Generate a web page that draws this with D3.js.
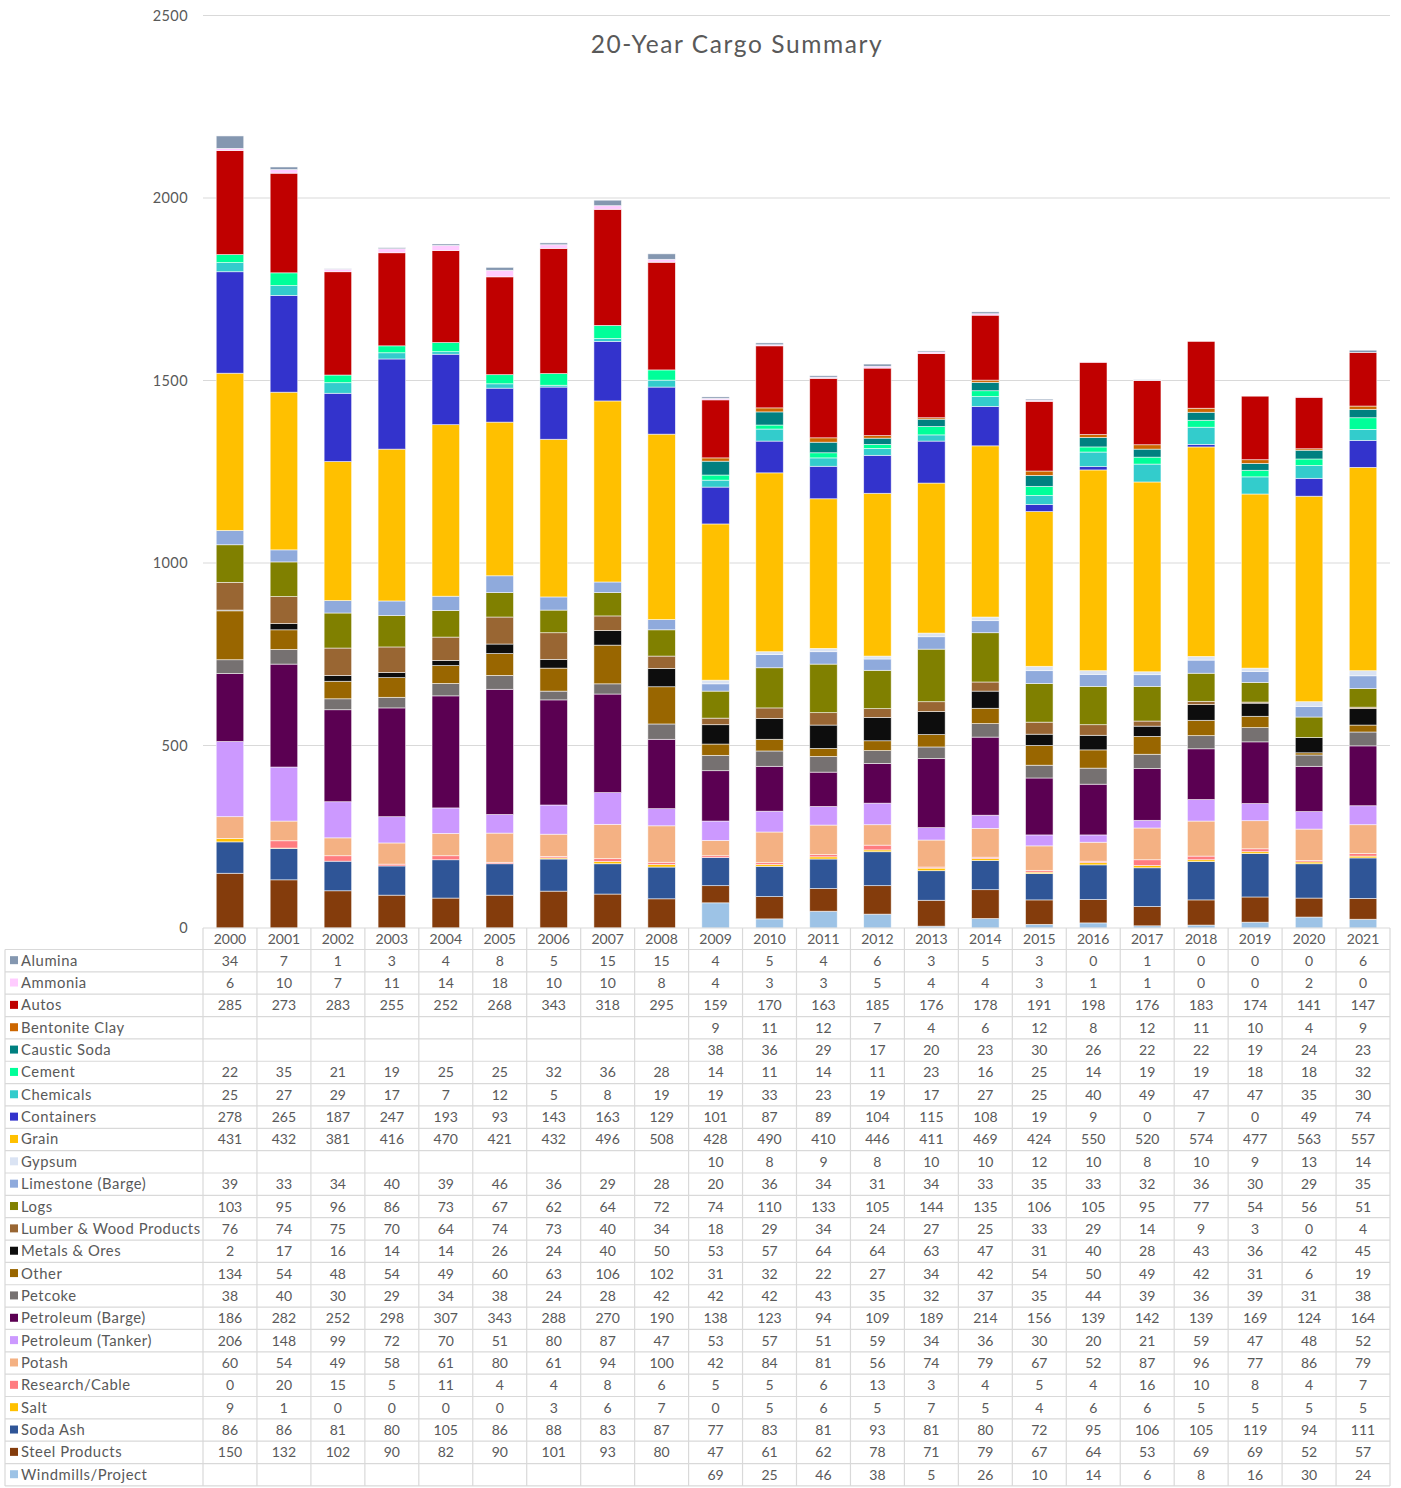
<!DOCTYPE html>
<html>
<head>
<meta charset="utf-8">
<script src="https://cdn.jsdelivr.net/npm/d3@7"></script>
<style>
  html, body { margin: 0; padding: 0; background: #fff; }
  svg { display: block; font-family: "Lato", "Open Sans", sans-serif; }
</style>
</head>
<body>
<svg id="chart" width="1401" height="1488"></svg>
<script>
// ---- Data ----
const years = ["2000","2001","2002","2003","2004","2005","2006","2007","2008","2009","2010","2011","2012","2013","2014","2015","2016","2017","2018","2019","2020","2021"];
const yTicks = [0, 500, 1000, 1500, 2000, 2500];
const chartTitle = "20-Year Cargo Summary";

const seriesNames = ["Alumina","Ammonia","Autos","Bentonite Clay","Caustic Soda","Cement","Chemicals","Containers","Grain","Gypsum","Limestone (Barge)","Logs","Lumber & Wood Products","Metals & Ores","Other","Petcoke","Petroleum (Barge)","Petroleum (Tanker)","Potash","Research/Cable","Salt","Soda Ash","Steel Products","Windmills/Project"];
const seriesColors = ["#8497B0","#FFCCFF","#C00000","#CC6600","#008080","#00FF99","#33CCCC","#3333CC","#FFC000","#DAE3F3","#8FAADC","#808000","#996633","#0D0D0D","#996600","#767171","#5B0052","#CC99FF","#F4B183","#FF7C80","#FFC000","#2F5597","#843C0C","#9DC3E6"];

const alumina      = [34,7,1,3,4,8,5,15,15,4,5,4,6,3,5,3,0,1,0,0,0,6];
const ammonia      = [6,10,7,11,14,18,10,10,8,4,3,3,5,4,4,3,1,1,0,0,2,0];
const autos        = [285,273,283,255,252,268,343,318,295,159,170,163,185,176,178,191,198,176,183,174,141,147];
const bentonite    = [null,null,null,null,null,null,null,null,null,9,11,12,7,4,6,12,8,12,11,10,4,9];
const causticSoda  = [null,null,null,null,null,null,null,null,null,38,36,29,17,20,23,30,26,22,22,19,24,23];
const cement       = [22,35,21,19,25,25,32,36,28,14,11,14,11,23,16,25,14,19,19,18,18,32];
const chemicals    = [25,27,29,17,7,12,5,8,19,19,33,23,19,17,27,25,40,49,47,47,35,30];
const containers   = [278,265,187,247,193,93,143,163,129,101,87,89,104,115,108,19,9,0,7,0,49,74];
const grain        = [431,432,381,416,470,421,432,496,508,428,490,410,446,411,469,424,550,520,574,477,563,557];
const gypsum       = [null,null,null,null,null,null,null,null,null,10,8,9,8,10,10,12,10,8,10,9,13,14];
const limestone    = [39,33,34,40,39,46,36,29,28,20,36,34,31,34,33,35,33,32,36,30,29,35];
const logs         = [103,95,96,86,73,67,62,64,72,74,110,133,105,144,135,106,105,95,77,54,56,51];
const lumber       = [76,74,75,70,64,74,73,40,34,18,29,34,24,27,25,33,29,14,9,3,0,4];
const metalsOres   = [2,17,16,14,14,26,24,40,50,53,57,64,64,63,47,31,40,28,43,36,42,45];
const other        = [134,54,48,54,49,60,63,106,102,31,32,22,27,34,42,54,50,49,42,31,6,19];
const petcoke      = [38,40,30,29,34,38,24,28,42,42,42,43,35,32,37,35,44,39,36,39,31,38];
const petroBarge   = [186,282,252,298,307,343,288,270,190,138,123,94,109,189,214,156,139,142,139,169,124,164];
const petroTanker  = [206,148,99,72,70,51,80,87,47,53,57,51,59,34,36,30,20,21,59,47,48,52];
const potash       = [60,54,49,58,61,80,61,94,100,42,84,81,56,74,79,67,52,87,96,77,86,79];
const research     = [0,20,15,5,11,4,4,8,6,5,5,6,13,3,4,5,4,16,10,8,4,7];
const salt         = [9,1,0,0,0,0,3,6,7,0,5,6,5,7,5,4,6,6,5,5,5,5];
const sodaAsh      = [86,86,81,80,105,86,88,83,87,77,83,81,93,81,80,72,95,106,105,119,94,111];
const steel        = [150,132,102,90,82,90,101,93,80,47,61,62,78,71,79,67,64,53,69,69,52,57];
const windmills    = [null,null,null,null,null,null,null,null,null,69,25,46,38,5,26,10,14,6,8,16,30,24];

const seriesValues = [alumina, ammonia, autos, bentonite, causticSoda, cement, chemicals, containers, grain, gypsum, limestone, logs, lumber, metalsOres, other, petcoke, petroBarge, petroTanker, potash, research, salt, sodaAsh, steel, windmills];

// ---- Layout ----
const svg = d3.select("#chart");
const textColor = "#595959";
const gridColor = "#D9D9D9";
const plotLeft = 203, plotRight = 1390, plotTop = 15.5, plotBottom = 928;
const tableLeft = 5, headerH = 21.5, rowH = 22.35;

const x = d3.scaleBand().domain(years).range([plotLeft, plotRight]).paddingInner(0.49).paddingOuter(0.245);
const xCell = d3.scaleBand().domain(years).range([plotLeft, plotRight]);
const y = d3.scaleLinear().domain([0, 2500]).range([plotBottom, plotTop]);

// gridlines
svg.append("g")
  .selectAll("line").data(yTicks.filter(d => d > 0)).join("line")
  .attr("x1", plotLeft).attr("x2", plotRight)
  .attr("y1", d => y(d)).attr("y2", d => y(d))
  .attr("stroke", gridColor).attr("stroke-width", 1);

// y axis labels
const yAxis = d3.axisLeft(y).tickValues(yTicks).tickFormat(d3.format("d")).tickSize(0).tickPadding(15);
const yG = svg.append("g").attr("transform", `translate(${plotLeft},0)`).call(yAxis);
yG.select(".domain").remove();
yG.selectAll("text").attr("fill", textColor).attr("font-size", 14.5)
  .attr("letter-spacing", 0.4).attr("font-family", "Lato, sans-serif");

// stack: bottom = last series (Windmills), top = Alumina
const stackOrder = seriesNames.map((n, i) => i).reverse();
const rows = years.map((yr, j) => {
  const o = { year: yr };
  seriesNames.forEach((n, i) => { o[n] = seriesValues[i][j] || 0; });
  return o;
});
const stack = d3.stack().keys(stackOrder.map(i => seriesNames[i]));
const layers = stack(rows);

const colorOf = d3.scaleOrdinal().domain(seriesNames).range(seriesColors);

svg.append("g").selectAll("g").data(layers).join("g")
  .attr("fill", d => colorOf(d.key))
  .selectAll("rect").data(d => d).join("rect")
  .attr("x", d => x(d.data.year))
  .attr("width", x.bandwidth())
  .attr("y", d => y(d[1]))
  .attr("height", d => Math.max(0, y(d[0]) - y(d[1])))
  .attr("stroke", "rgba(255,255,255,0.7)")
  .attr("stroke-width", 0.75);

// title
svg.append("text")
  .attr("x", 737).attr("y", 53)
  .attr("text-anchor", "middle")
  .attr("fill", textColor)
  .attr("font-size", 24.5)
  .attr("letter-spacing", 1.6)
  .attr("font-family", "Lato, sans-serif")
  .text(chartTitle);

// ---- data table ----
const table = svg.append("g").attr("font-family", "Lato, sans-serif").attr("fill", textColor);
const tableTop = plotBottom;
const bodyTop = tableTop + headerH;
const tableBottom = bodyTop + rowH * seriesNames.length;

// horizontal lines
const hLines = [tableTop].concat(d3.range(seriesNames.length + 1).map(i => bodyTop + i * rowH));
table.selectAll("line.h").data(hLines).join("line")
  .attr("class", "h")
  .attr("x1", (d, i) => i === 0 ? plotLeft : tableLeft)
  .attr("x2", plotRight)
  .attr("y1", d => d).attr("y2", d => d)
  .attr("stroke", gridColor).attr("stroke-width", 1.2);

// vertical lines
const vLines = years.map(yr => xCell(yr)).concat([plotRight]);
table.selectAll("line.v").data(vLines).join("line")
  .attr("class", "v")
  .attr("x1", d => d).attr("x2", d => d)
  .attr("y1", tableTop).attr("y2", tableBottom)
  .attr("stroke", gridColor).attr("stroke-width", 1.2);
table.append("line")
  .attr("x1", tableLeft).attr("x2", tableLeft)
  .attr("y1", bodyTop).attr("y2", tableBottom)
  .attr("stroke", gridColor).attr("stroke-width", 1.2);

// header years
table.selectAll("text.yr").data(years).join("text")
  .attr("class", "yr")
  .attr("x", d => xCell(d) + xCell.bandwidth() / 2)
  .attr("y", tableTop + headerH / 2 + 5)
  .attr("text-anchor", "middle")
  .attr("font-size", 14)
  .text(d => d);

// row labels with swatches
const rowG = table.selectAll("g.row").data(seriesNames).join("g")
  .attr("class", "row")
  .attr("transform", (d, i) => `translate(0,${bodyTop + i * rowH})`);
rowG.append("rect")
  .attr("x", 10).attr("y", rowH / 2 - 4.5)
  .attr("width", 8).attr("height", 8)
  .attr("fill", d => colorOf(d));
rowG.append("text")
  .attr("x", 21).attr("y", rowH / 2 + 5)
  .attr("font-size", 14.8)
  .attr("letter-spacing", 0.55)
  .text(d => d);

// cell values
rowG.each(function(name, i) {
  d3.select(this).selectAll("text.val")
    .data(seriesValues[i].map((v, j) => ({ v, yr: years[j] })).filter(d => d.v !== null))
    .join("text")
    .attr("class", "val")
    .attr("x", d => xCell(d.yr) + xCell.bandwidth() / 2)
    .attr("y", rowH / 2 + 5)
    .attr("text-anchor", "middle")
    .attr("font-size", 14)
    .text(d => d.v);
});
</script>
</body>
</html>
